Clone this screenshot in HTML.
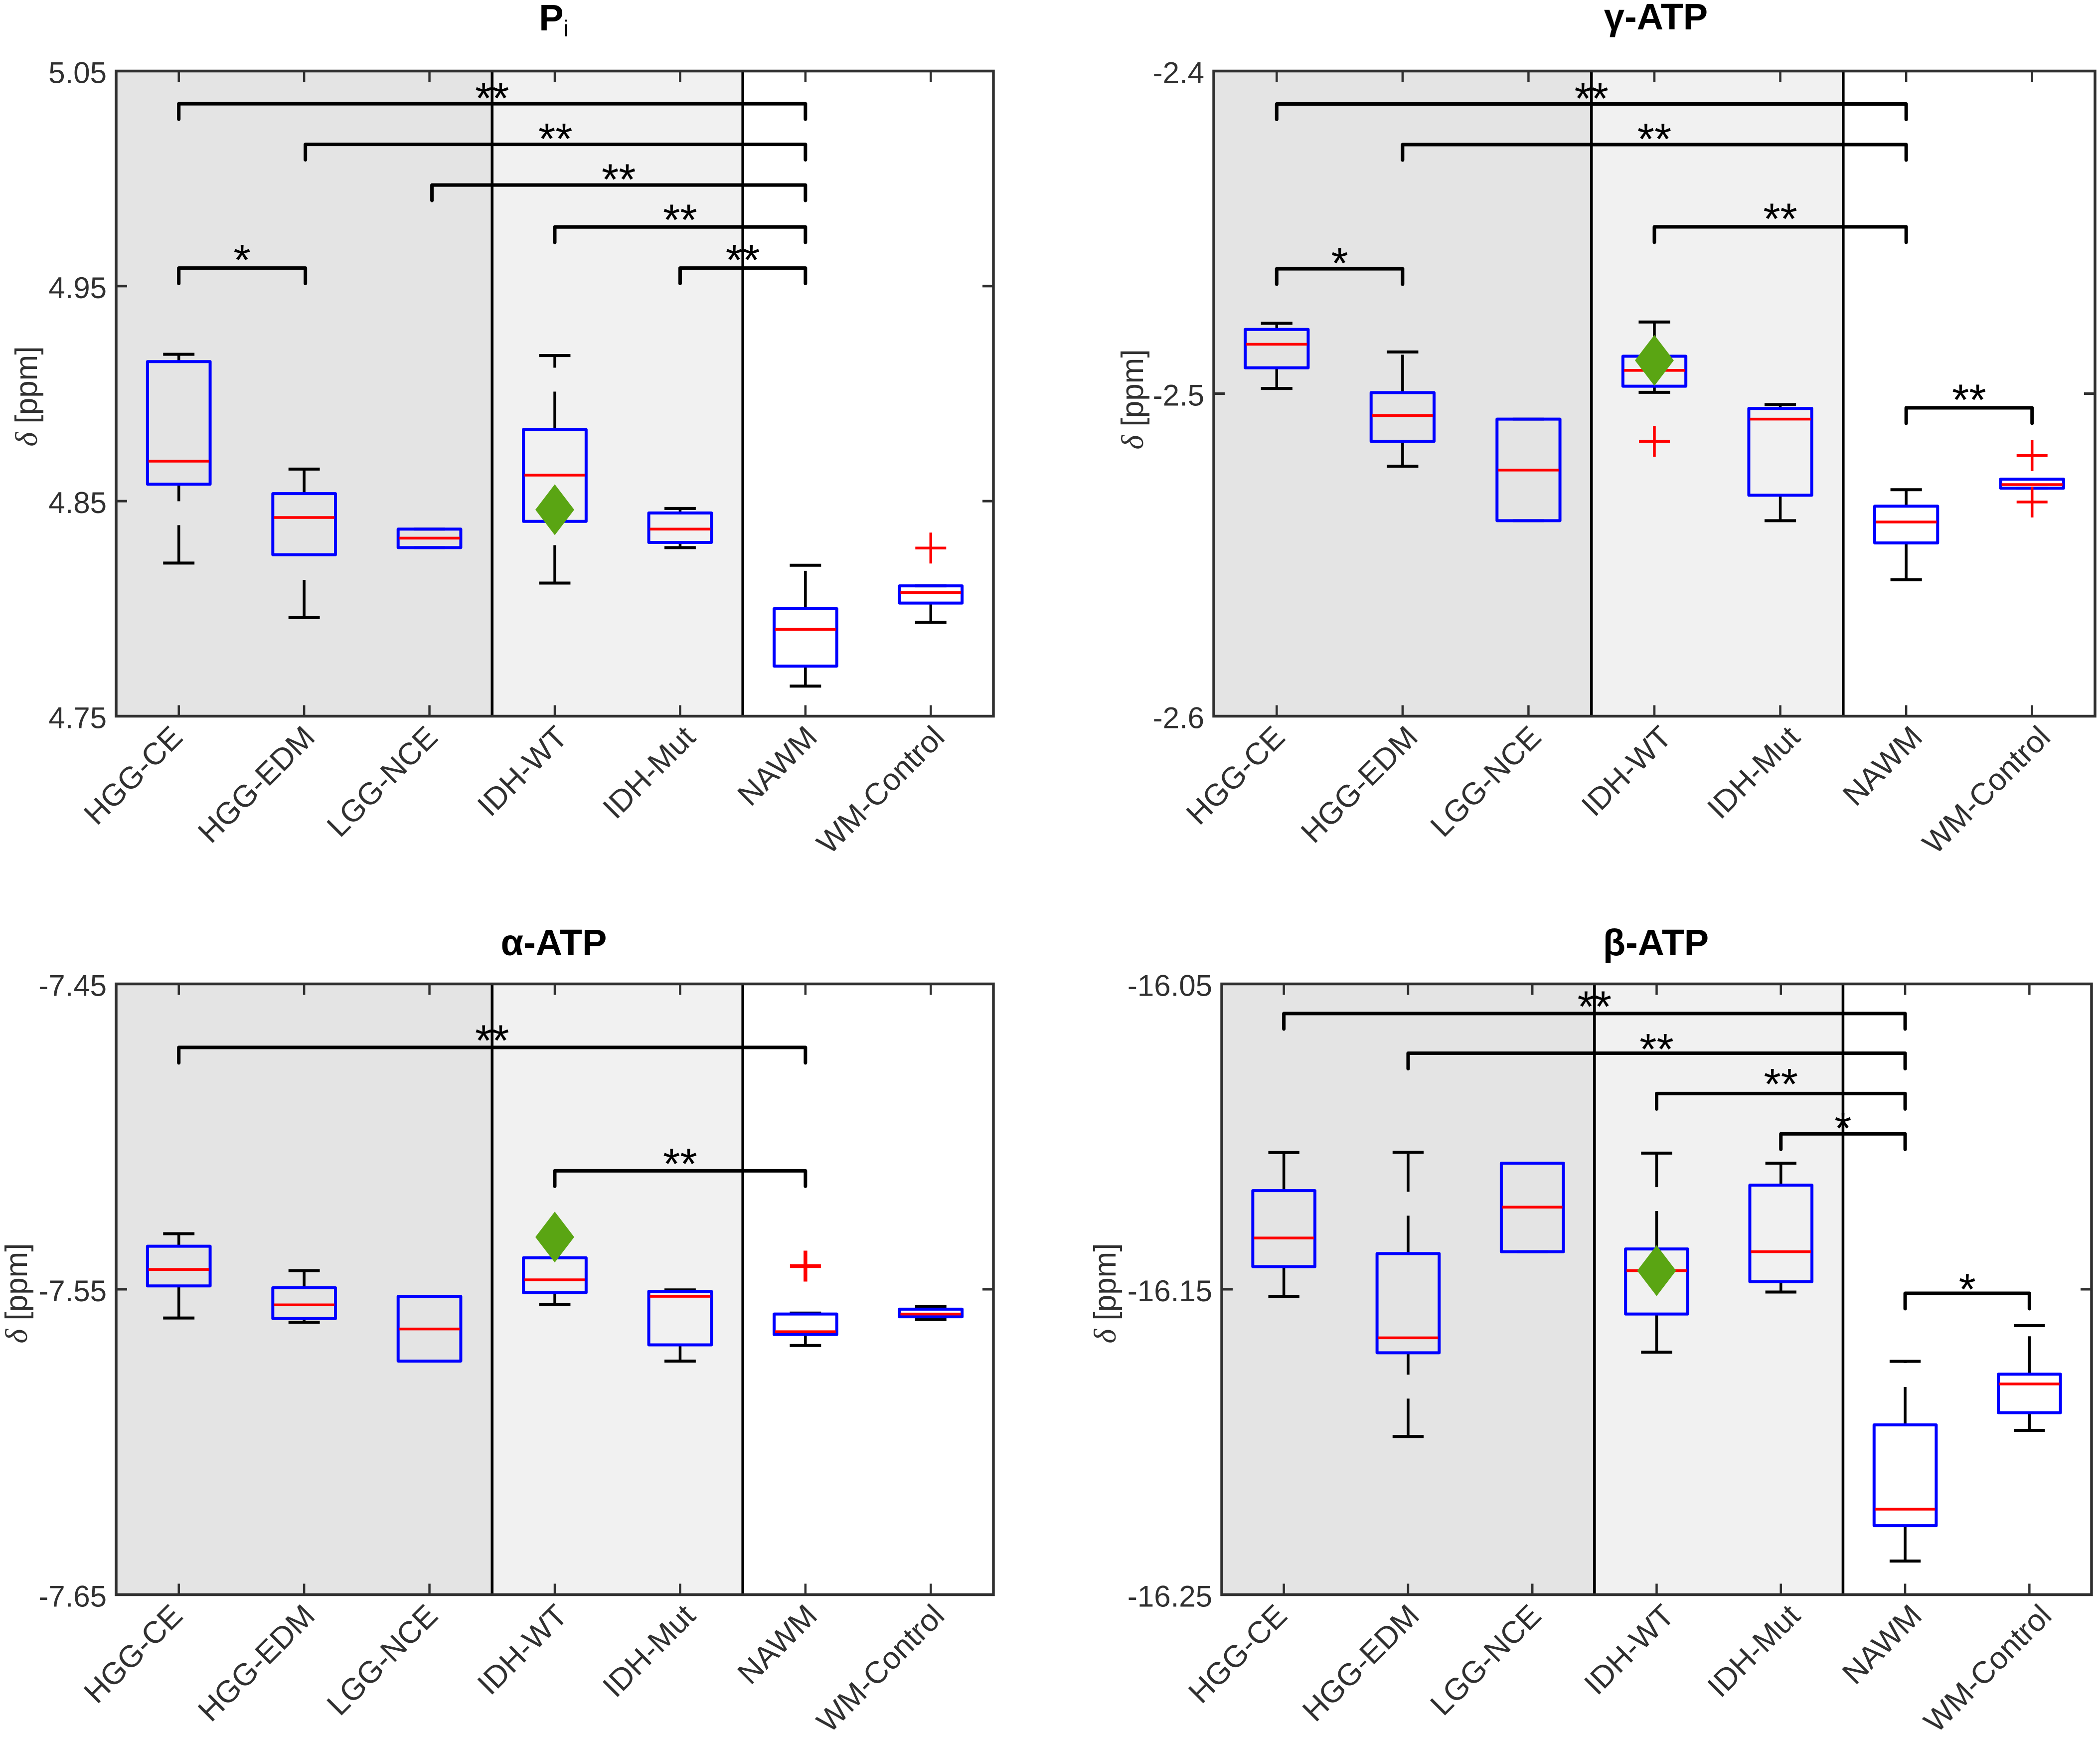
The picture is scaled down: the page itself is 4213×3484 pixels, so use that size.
<!DOCTYPE html>
<html lang="en">
<head>
<meta charset="utf-8">
<title>Chemical shift box plots</title>
<style>
html,body{margin:0;padding:0;background:#fff;}
svg{display:block;}
text{font-family:"Liberation Sans",sans-serif;}
</style>
</head>
<body>
<svg id="figure" xmlns="http://www.w3.org/2000/svg" width="4213" height="3484" viewBox="0 0 4213 3484"></svg>
<script>
const categories = ['HGG-CE','HGG-EDM','LGG-NCE','IDH-WT','IDH-Mut','NAWM','WM-Control'];

// Pi
const piTickLabels = ['4.75','4.85','4.95','5.05'];
const piLower = [4.8212,4.7958,4.8284,4.8119,4.8284,4.7640,4.7937];
const piQ1 = [4.8579,4.8251,4.8284,4.8406,4.8308,4.7733,4.8026];
const piMedian = [4.8686,4.8424,4.8328,4.8621,4.8370,4.7904,4.8075];
const piQ3 = [4.9149,4.8535,4.8370,4.8833,4.8445,4.8000,4.8106];
const piUpper = [4.9183,4.8649,4.8370,4.9177,4.8466,4.8202,4.8106];
const piOutlierCategory = [7];
const piOutlierValue = [4.8282];
const piDiamondCategory = [4];
const piDiamondValue = [4.846];
const piBracketFrom = [1,2.01,3.02,4,5,1];
const piBracketTo = [6,6,6,6,6,2.01];
const piBracketLevel = [5.0348,5.0159,4.9970,4.9775,4.9584,4.9584];
const piBracketLabel = ['**','**','**','**','**','*'];

// gamma-ATP
const gammaTickLabels = ['-2.6','-2.5','-2.4'];
const gammaLower = [-2.4984,-2.5225,-2.5394,-2.4996,-2.5394,-2.5577,-2.5293];
const gammaQ1 = [-2.4920,-2.5148,-2.5394,-2.4977,-2.5315,-2.5463,-2.5293];
const gammaMedian = [-2.4847,-2.5068,-2.5237,-2.4928,-2.5079,-2.5398,-2.5282];
const gammaQ3 = [-2.4801,-2.4997,-2.5079,-2.4884,-2.5046,-2.5349,-2.5265];
const gammaUpper = [-2.4782,-2.4871,-2.5079,-2.4778,-2.5034,-2.5298,-2.5265];
const gammaOutlierCategory = [4,7,7];
const gammaOutlierValue = [-2.5148,-2.5192,-2.5336];
const gammaDiamondCategory = [4];
const gammaDiamondValue = [-2.4897];
const gammaBracketFrom = [1,2,4,1,6];
const gammaBracketTo = [6,6,6,2,7];
const gammaBracketLevel = [-2.4102,-2.4228,-2.4483,-2.4613,-2.5044];
const gammaBracketLabel = ['**','**','**','*','**'];

// alpha-ATP
const alphaTickLabels = ['-7.65','-7.55','-7.45'];
const alphaLower = [-7.5594,-7.5608,-7.5735,-7.5549,-7.5735,-7.5684,-7.5599];
const alphaQ1 = [-7.5489,-7.5596,-7.5735,-7.5511,-7.5682,-7.5648,-7.5590];
const alphaMedian = [-7.5435,-7.5551,-7.5630,-7.5469,-7.5523,-7.5639,-7.5581];
const alphaQ3 = [-7.5359,-7.5495,-7.5523,-7.5397,-7.5507,-7.5581,-7.5565];
const alphaUpper = [-7.5318,-7.5439,-7.5523,-7.5397,-7.5502,-7.5578,-7.5556];
const alphaOutlierCategory = [6];
const alphaOutlierValue = [-7.5424];
const alphaDiamondCategory = [4];
const alphaDiamondValue = [-7.5329];
const alphaBracketFrom = [1,4];
const alphaBracketTo = [6,6];
const alphaBracketLevel = [-7.4708,-7.5112];
const alphaBracketLabel = ['**','**'];

// beta-ATP
const betaTickLabels = ['-16.25','-16.15','-16.05'];
const betaLower = [-16.1523,-16.1982,-16.1377,-16.1706,-16.1509,-16.2390,-16.1962];
const betaQ1 = [-16.1426,-16.1708,-16.1377,-16.1581,-16.1475,-16.2274,-16.1904];
const betaMedian = [-16.1332,-16.1659,-16.1231,-16.1439,-16.1377,-16.2220,-16.1810];
const betaQ3 = [-16.1177,-16.1383,-16.1087,-16.1368,-16.1159,-16.1944,-16.1778];
const betaUpper = [-16.1052,-16.1051,-16.1087,-16.1054,-16.1087,-16.1736,-16.1619];
const betaOutlierCategory = [];
const betaOutlierValue = [];
const betaDiamondCategory = [4];
const betaDiamondValue = [-16.1439];
const betaBracketFrom = [1,2,4,5,6];
const betaBracketTo = [6,6,6,6,7];
const betaBracketLevel = [-16.0597,-16.0727,-16.0859,-16.0991,-16.1513];
const betaBracketLabel = ['**','**','**','*','*'];

const svg = document.getElementById('figure');
const NS = 'http://www.w3.org/2000/svg';

function make(parent, tag, props) {
  const node = document.createElementNS(NS, tag);
  for (const key in props) node.setAttribute(key, props[key]);
  parent.appendChild(node);
  return node;
}

function drawPanel(p) {
  const xScale = v => p.left + (v - 0.5) * (p.right - p.left) / 7;
  const yScale = v => p.bottom - (v - p.yMin) * (p.bottom - p.top) / (p.yMax - p.yMin);

  const g = make(svg, 'g', {});
  
  

  // shaded regions
  const shadeA = make(g, 'rect', {x: p.left, y: p.top, width: xScale(3.5) - p.left, height: p.bottom - p.top, fill: '#e4e4e4'});
  
  
  const shadeB = make(g, 'rect', {x: xScale(3.5), y: p.top, width: xScale(5.5) - xScale(3.5), height: p.bottom - p.top, fill: '#f1f1f1'});
  
  

  // separators
  [3.5, 5.5].forEach(v => {
    const sep = make(g, 'line', {x1: xScale(v), x2: xScale(v), y1: p.top, y2: p.bottom, stroke: '#000', 'stroke-width': 5.5});
    
    
  });

  // significance brackets
  p.bracketFrom.forEach((from, i) => {
    const to = p.bracketTo[i];
    const by = yScale(p.bracketLevel[i]);
    const x1 = xScale(from);
    const x2 = xScale(to);
    const br = make(g, 'path', {d: 'M' + x1 + ' ' + (by + 31) + 'V' + by + 'H' + x2 + 'V' + (by + 31), fill: 'none', stroke: '#000', 'stroke-width': 7, 'stroke-linejoin': 'round', 'stroke-linecap': 'round'});
    
    
    const star = make(g, 'text', {x: (x1 + x2) / 2, y: by + 19 - p.starLift[i], 'text-anchor': 'middle', 'font-size': 88, fill: '#000'});
    star.textContent = p.bracketLabel[i];
    
    
  });

  // boxes
  categories.forEach((cat, i) => {
    const cx = xScale(i + 1);
    const yLow = yScale(p.lower[i]);
    const yQ1 = yScale(p.q1[i]);
    const yMed = yScale(p.median[i]);
    const yQ3 = yScale(p.q3[i]);
    const yUp = yScale(p.upper[i]);
    const halfBox = (p.right - p.left) / 7 * 0.25;
    const halfCap = (p.right - p.left) / 7 * 0.125;

    const low = make(g, 'line', {x1: cx, x2: cx, y1: yLow, y2: yQ1, stroke: '#000', 'stroke-width': 5.5, 'stroke-dasharray': '76 48'});
    
    
    const up = make(g, 'line', {x1: cx, x2: cx, y1: yQ3, y2: yUp, stroke: '#000', 'stroke-width': 5.5, 'stroke-dasharray': '76 48'});
    
    
    const capLow = make(g, 'line', {x1: cx - halfCap, x2: cx + halfCap, y1: yLow, y2: yLow, stroke: '#000', 'stroke-width': 6});
    
    
    const capUp = make(g, 'line', {x1: cx - halfCap, x2: cx + halfCap, y1: yUp, y2: yUp, stroke: '#000', 'stroke-width': 6});
    
    
    const box = make(g, 'rect', {x: cx - halfBox, y: yQ3, width: halfBox * 2, height: yQ1 - yQ3, fill: 'none', stroke: '#0000ff', 'stroke-width': 6, 'stroke-linejoin': 'round'});
    
    
    const med = make(g, 'line', {x1: cx - halfBox + 2, x2: cx + halfBox - 2, y1: yMed, y2: yMed, stroke: '#ff0000', 'stroke-width': 5.5});
    
    
  });

  // outliers
  p.outlierCategory.forEach((c, i) => {
    const ox = xScale(c);
    const oy = yScale(p.outlierValue[i]);
    const mark = make(g, 'path', {d: 'M' + (ox - 31) + ' ' + oy + 'H' + (ox + 31) + 'M' + ox + ' ' + (oy - 31) + 'V' + (oy + 31), fill: 'none', stroke: '#ff0000', 'stroke-width': p.outlierWidth});
    
    
  });

  // diamonds
  p.diamondCategory.forEach((c, i) => {
    const dx = xScale(c);
    const dy = yScale(p.diamondValue[i]);
    const pts = [[dx, dy - 51], [dx + 39, dy], [dx, dy + 51], [dx - 39, dy]].map(q => q.join(',')).join(' ');
    const dia = make(g, 'polygon', {points: pts, fill: '#5aa513'});
    
    
  });

  // axes frame
  const frame = make(g, 'rect', {x: p.left, y: p.top, width: p.right - p.left, height: p.bottom - p.top, fill: 'none', stroke: '#303030', 'stroke-width': 5.5});
  
  

  // y ticks
  p.tickLabels.forEach(label => {
    const ty = yScale(parseFloat(label));
    const tl = make(g, 'line', {x1: p.left, x2: p.left + 22, y1: ty, y2: ty, stroke: '#303030', 'stroke-width': 5});
    
    
    const tr = make(g, 'line', {x1: p.right - 22, x2: p.right, y1: ty, y2: ty, stroke: '#303030', 'stroke-width': 5});
    
    
    const t = make(g, 'text', {x: p.left - 19, y: ty + 24, 'text-anchor': 'end', 'font-size': 60, fill: '#303030'});
    t.textContent = label;
    
    
  });

  // x ticks and labels
  categories.forEach((cat, i) => {
    const cx = xScale(i + 1);
    const tb = make(g, 'line', {x1: cx, x2: cx, y1: p.bottom - 22, y2: p.bottom, stroke: '#303030', 'stroke-width': 4.5});
    
    
    const tt = make(g, 'line', {x1: cx, x2: cx, y1: p.top, y2: p.top + 22, stroke: '#303030', 'stroke-width': 4.5});
    
    
    const lx = cx + p.labelDx[i];
    const ly = p.bottom + 46;
    const t = make(g, 'text', {x: lx, y: ly, transform: 'rotate(-45 ' + lx + ' ' + ly + ')', 'text-anchor': 'end', 'font-size': 62, fill: '#303030'});
    t.textContent = cat;
    
    
  });

  // y label
  const yl = make(g, 'text', {x: p.ylabelX, y: p.ylabelY, transform: 'rotate(-90 ' + p.ylabelX + ' ' + p.ylabelY + ')', 'text-anchor': 'middle', 'font-size': 62, fill: '#303030'});
  const delta = make(yl, 'tspan', {'font-style': 'italic', 'font-family': '"Liberation Serif", serif'});
  delta.textContent = 'δ';
  const unit = make(yl, 'tspan', {});
  unit.textContent = ' [ppm]';
  
  

  // title
  const title = make(g, 'text', {x: p.titleX, y: p.titleY, 'text-anchor': 'middle', 'font-size': 74, 'font-weight': 'bold', fill: '#000'});
  const main = make(title, 'tspan', {});
  main.textContent = p.title;
  if (p.titleSub) {
    const sub = make(title, 'tspan', {'font-size': 46, 'font-weight': 'normal', dy: 12});
    sub.textContent = p.titleSub;
  }
  
  
}

drawPanel({id: 'pi', title: 'P', titleSub: 'i', titleX: 1111, titleY: 61,
  left: 233, right: 1993, top: 142.5, bottom: 1436.5, yMin: 4.75, yMax: 5.05,
  ylabelX: 74, ylabelY: 795, outlierWidth: 5.5,
  starLift: [0,0,0,3,5,5], labelDx: [11,25,20,29,34,27,31],
  tickLabels: piTickLabels, lower: piLower, q1: piQ1, median: piMedian, q3: piQ3, upper: piUpper,
  outlierCategory: piOutlierCategory, outlierValue: piOutlierValue,
  diamondCategory: piDiamondCategory, diamondValue: piDiamondValue,
  bracketFrom: piBracketFrom, bracketTo: piBracketTo, bracketLevel: piBracketLevel, bracketLabel: piBracketLabel});

drawPanel({id: 'gamma', title: 'γ-ATP', titleX: 3322, titleY: 59,
  left: 2435, right: 4203, top: 142.5, bottom: 1436.5, yMin: -2.6, yMax: -2.4,
  ylabelX: 2293, ylabelY: 801, outlierWidth: 5.5,
  starLift: [0,0,5,0,5], labelDx: [20,34,29,38,43,36,40],
  tickLabels: gammaTickLabels, lower: gammaLower, q1: gammaQ1, median: gammaMedian, q3: gammaQ3, upper: gammaUpper,
  outlierCategory: gammaOutlierCategory, outlierValue: gammaOutlierValue,
  diamondCategory: gammaDiamondCategory, diamondValue: gammaDiamondValue,
  bracketFrom: gammaBracketFrom, bracketTo: gammaBracketTo, bracketLevel: gammaBracketLevel, bracketLabel: gammaBracketLabel});

drawPanel({id: 'alpha', title: 'α-ATP', titleX: 1111, titleY: 1916,
  left: 233, right: 1993, top: 1973.5, bottom: 3198.5, yMin: -7.65, yMax: -7.45,
  ylabelX: 54, ylabelY: 2594, outlierWidth: 7.5,
  starLift: [3,3], labelDx: [11,25,20,29,34,27,31],
  tickLabels: alphaTickLabels, lower: alphaLower, q1: alphaQ1, median: alphaMedian, q3: alphaQ3, upper: alphaUpper,
  outlierCategory: alphaOutlierCategory, outlierValue: alphaOutlierValue,
  diamondCategory: alphaDiamondCategory, diamondValue: alphaDiamondValue,
  bracketFrom: alphaBracketFrom, bracketTo: alphaBracketTo, bracketLevel: alphaBracketLevel, bracketLabel: alphaBracketLabel});

drawPanel({id: 'beta', title: 'β-ATP', titleX: 3322, titleY: 1916,
  left: 2451, right: 4196, top: 1973.5, bottom: 3198.5, yMin: -16.25, yMax: -16.05,
  ylabelX: 2238, ylabelY: 2594, outlierWidth: 5.5,
  starLift: [3,-3,8,0,-3], labelDx: [10,26,21,39,42,37,48],
  tickLabels: betaTickLabels, lower: betaLower, q1: betaQ1, median: betaMedian, q3: betaQ3, upper: betaUpper,
  outlierCategory: betaOutlierCategory, outlierValue: betaOutlierValue,
  diamondCategory: betaDiamondCategory, diamondValue: betaDiamondValue,
  bracketFrom: betaBracketFrom, bracketTo: betaBracketTo, bracketLevel: betaBracketLevel, bracketLabel: betaBracketLabel});
</script>
</body>
</html>
